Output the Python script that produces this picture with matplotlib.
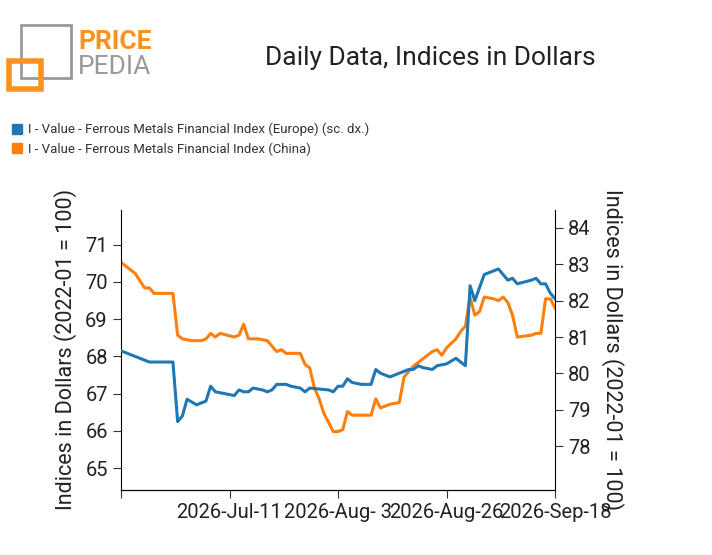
import matplotlib
matplotlib.use("Agg")
import matplotlib.pyplot as plt
import numpy as np
from matplotlib.patches import Rectangle, Patch

plt.rcParams['font.family'] = ['Roboto', 'DejaVu Sans']

base = np.datetime64('2026-06-18')
eu_days = [0,3,5,6,11,12,13,14,16,17,18,19,20,24,25,26,27,28,30,31,32,33,35,36,38,39,40,44,45,46,47,48,49,51,53,54,55,56,57,59,60,61,62,63,64,66,67,69,71,72,73,74,75,76,77,79,80,81,82,83,84,87,88,89,90,91,92]
eu_vals = [68.15,68.0,67.9,67.85,67.85,66.25,66.4,66.85,66.7,66.75,66.8,67.2,67.05,66.95,67.1,67.05,67.05,67.15,67.1,67.05,67.1,67.25,67.25,67.2,67.15,67.05,67.15,67.1,67.05,67.2,67.2,67.4,67.3,67.25,67.25,67.65,67.55,67.5,67.45,67.55,67.6,67.65,67.65,67.75,67.7,67.65,67.75,67.8,67.95,67.85,67.75,69.9,69.5,69.85,70.2,70.3,70.35,70.2,70.05,70.1,69.95,70.05,70.1,69.95,69.95,69.7,69.55]
cn_days = [0,3,5,6,7,9,11,12,13,15,17,18,19,20,21,24,25,26,27,29,31,32,33,34,35,38,39,40,41,42,43,45,46,47,48,49,51,53,54,55,56,57,59,60,61,62,64,66,67,68,69,71,72,73,74,75,76,77,79,80,81,82,83,84,87,88,89,90,91,92]
cn_vals = [83.05,82.75,82.35,82.35,82.2,82.2,82.2,81.05,80.95,80.9,80.9,80.95,81.1,81.0,81.1,81.0,81.05,81.35,80.95,80.95,80.9,80.75,80.6,80.65,80.55,80.55,80.25,80.15,79.6,79.3,78.9,78.4,78.4,78.45,78.95,78.85,78.85,78.85,79.3,79.05,79.1,79.15,79.2,79.9,80.05,80.2,80.4,80.6,80.65,80.5,80.7,80.95,81.15,81.3,82.1,81.6,81.7,82.1,82.05,82.0,82.1,81.95,81.6,81.0,81.05,81.1,81.1,82.05,82.05,81.8]
tick_days = [0, 23, 46, 69, 92]
tick_labels = ['', '2026-Jul-11', '2026-Aug- 3', '2026-Aug-26', '2026-Sep-18']
legend_labels = ['I - Value - Ferrous Metals Financial Index (Europe) (sc. dx.)',
                 'I - Value - Ferrous Metals Financial Index (China)']

eu_x = base + np.array(eu_days)
cn_x = base + np.array(cn_days)

fig = plt.figure(figsize=(7.12, 5.55), dpi=100)
ax = fig.add_axes([0.17, 0.117, 0.6095, 0.505])
ax2 = ax.twinx()
ax.plot(eu_x, eu_vals, color='#1f77b4', lw=2.2, zorder=3)
ax2.plot(cn_x, cn_vals, color='#ff7f0e', lw=2.2)
ax.set_zorder(ax2.get_zorder() + 1); ax.patch.set_visible(False)

ax.set_ylim(64.41, 71.94)
ax2.set_ylim(76.79, 84.5)
ax.set_yticks(range(65, 72))
ax2.set_yticks(range(78, 85))
ax.set_xlim(base, base + 92)
ax.set_xticks(base + np.array(tick_days))
ax.set_xticklabels(tick_labels)
for a in (ax, ax2):
    a.tick_params(labelsize=14.5, length=6, color='#333333', labelcolor='#222222')
    a.spines['top'].set_visible(False)
ax.spines['right'].set_visible(False)
ax2.spines['left'].set_visible(False)
ax.set_ylabel('Indices in Dollars (2022-01 = 100)', fontsize=15.5, color='#222222', labelpad=6)
ax2.set_ylabel('Indices in Dollars (2022-01 = 100)', fontsize=15.5, color='#222222', rotation=270, labelpad=24)

fig.text(0.604, 0.895, 'Daily Data, Indices in Dollars', fontsize=19, color='#222222', ha='center', va='center')
handles = [Patch(color='#1f77b4'), Patch(color='#ff7f0e')]
fig.legend(handles, legend_labels,
           loc='upper left', bbox_to_anchor=(0.0, 0.8), frameon=False,
           handlelength=0.8, handleheight=0.8, handletextpad=0.4, labelspacing=0.45,
           prop={'size': 9.5}, labelcolor='#333333')

# logo
fig.add_artist(Rectangle((0.03, 0.86), 0.07, 0.095, transform=fig.transFigure, fill=False, ec='#999999', lw=2))
fig.add_artist(Rectangle((0.012, 0.84), 0.045, 0.05, transform=fig.transFigure, fill=False, ec='#f7931e', lw=4))
fig.text(0.11, 0.925, 'PRICE', fontsize=19, color='#f7931e', fontweight='bold', va='center')
fig.text(0.11, 0.88, 'PEDIA', fontsize=19, color='#999999', va='center')

fig.savefig('out.png', dpi=100)
